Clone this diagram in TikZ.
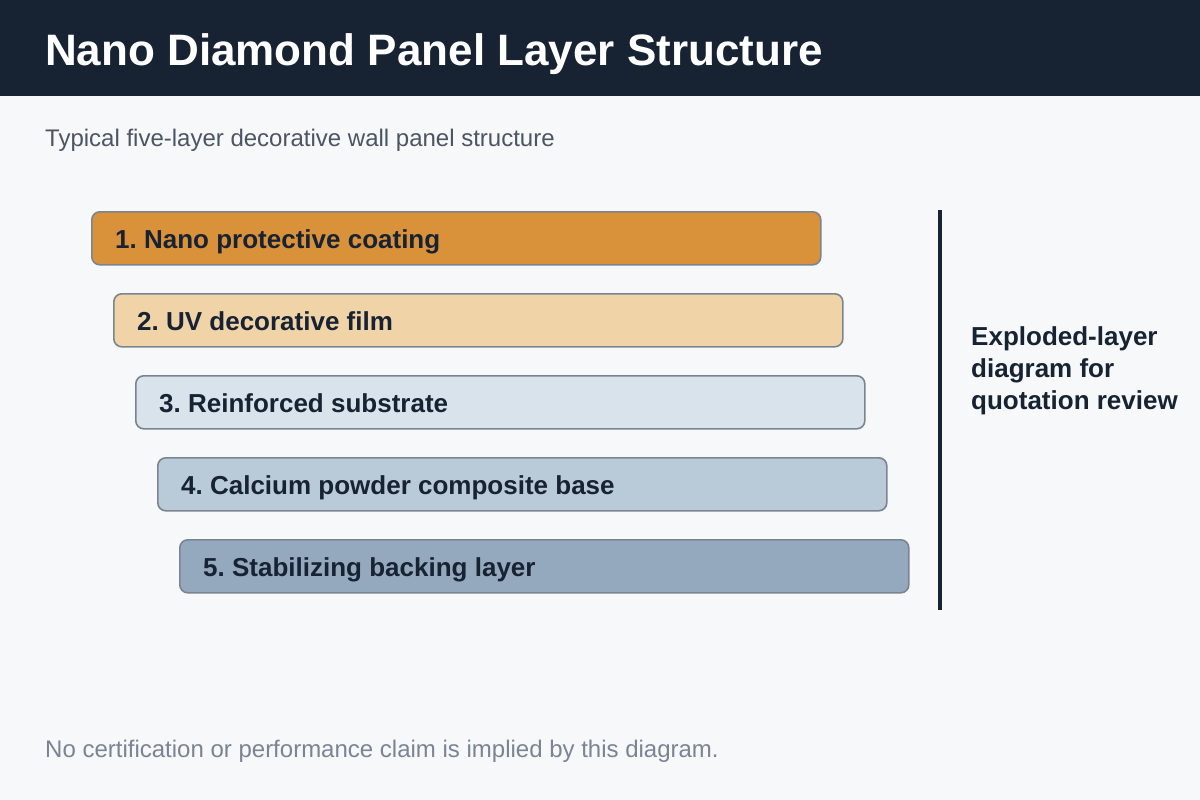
\documentclass[tikz,border=0pt]{standalone}
\usepackage{fontspec}
\setmainfont{Liberation Sans}
\frenchspacing
\definecolor{bg}{HTML}{F6F8FA}
\definecolor{head}{HTML}{172233}
\definecolor{ink}{HTML}{172233}
\definecolor{sub}{HTML}{4B5563}
\definecolor{foot}{HTML}{7B8494}
\definecolor{edge}{HTML}{7B8592}
\definecolor{cA}{HTML}{D9913A}
\definecolor{cB}{HTML}{F0D3A6}
\definecolor{cC}{HTML}{D8E3EC}
\definecolor{cD}{HTML}{B9CAD8}
\definecolor{cE}{HTML}{94A9BD}
\begin{document}
\begin{tikzpicture}[x=1pt,y=-1pt,
  layerbox/.style={draw=edge, line width=1.6pt, rounded corners=8pt, minimum width=729pt, minimum height=53pt, inner sep=0pt, anchor=north west},
  layertext/.style={font=\fontsize{26}{30}\selectfont\bfseries, text=ink, anchor=base west, inner sep=0pt}]
\useasboundingbox (0,0) rectangle (1200,800);
\fill[bg] (0,0) rectangle (1200,800);
\fill[head] (0,0) rectangle (1200,96);
\node[anchor=base west, inner sep=0pt, text=white, font=\fontsize{44}{50}\selectfont\bfseries] (title) at (45,66) {Nano Diamond Panel Layer Structure};
\node[anchor=base west, inner sep=0pt, text=sub, font=\fontsize{24}{28}\selectfont] (subtitle) at (45,146) {Typical five-layer decorative wall panel structure};
\node[layerbox, fill=cA] (l1) at (91,211) {};
\node[layerbox, fill=cB] (l2) at (113,293) {};
\node[layerbox, fill=cC] (l3) at (135,375) {};
\node[layerbox, fill=cD] (l4) at (157,457) {};
\node[layerbox, fill=cE] (l5) at (179,539) {};
\node[layertext] (t1) at ([xshift=24pt,yshift=-10pt]l1.west) {1. Nano protective coating};
\node[layertext] (t2) at ([xshift=24pt,yshift=-10pt]l2.west) {2. UV decorative film};
\node[layertext] (t3) at ([xshift=24pt,yshift=-10pt]l3.west) {3. Reinforced substrate};
\node[layertext] (t4) at ([xshift=24pt,yshift=-10pt]l4.west) {4. Calcium powder composite base};
\node[layertext] (t5) at ([xshift=24pt,yshift=-10pt]l5.west) {5. Stabilizing backing layer};
\coordinate (vtop) at (940,210);
\coordinate (vbot) at (940,610);
\draw[ink, line width=4pt] (vtop) -- (vbot);
\node[anchor=base west, inner sep=0pt, text=ink, font=\fontsize{26}{32}\selectfont\bfseries, align=left] (note) at (971,409) {Exploded-layer\\diagram for\\quotation review};
\node[anchor=base west, inner sep=0pt, text=foot, font=\fontsize{24}{28}\selectfont] (footer) at (45,757) {No certification or performance claim is implied by this diagram.};
\end{tikzpicture}
\end{document}
